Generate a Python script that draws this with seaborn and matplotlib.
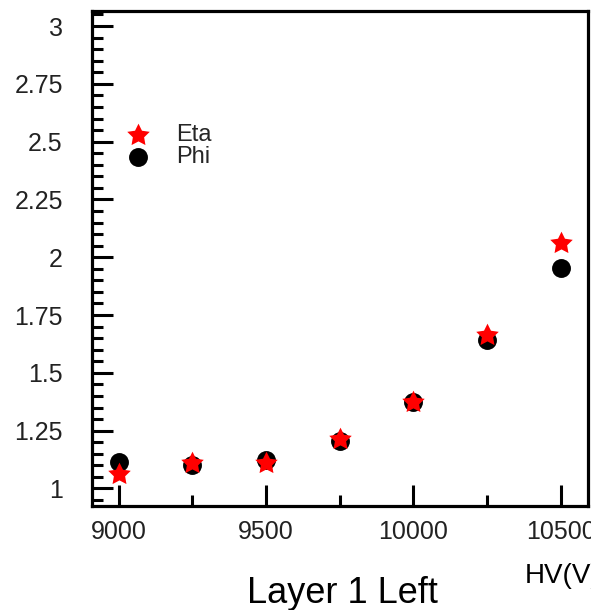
import matplotlib
matplotlib.use("Agg")
import matplotlib.pyplot as plt
import seaborn as sns
import pandas as pd
import numpy as np
from matplotlib.ticker import MultipleLocator, FixedLocator, FixedFormatter

hv = [9000, 9250, 9500, 9750, 10000, 10250, 10500]
eta = [1.063, 1.108, 1.110, 1.212, 1.372, 1.664, 2.060]
phi = [1.116, 1.100, 1.125, 1.203, 1.372, 1.640, 1.955]
x_ticks = [9000, 9500, 10000, 10500]
x_tick_labels = ["9000", "9500", "10000", "10500"]
y_ticks = [1, 1.25, 1.5, 1.75, 2, 2.25, 2.5, 2.75, 3]
y_tick_labels = ["1", "1.25", "1.5", "1.75", "2", "2.25", "2.5", "2.75", "3"]

sns.set_theme(style="white")
plt.rcParams['font.family'] = ['Liberation Sans', 'DejaVu Sans']

# fat five-pointed star marker shape (ROOT-like)
_ang = np.pi / 2 + np.arange(10) * np.pi / 5
_rad = np.where(np.arange(10) % 2 == 0, 1.0, 0.5)
fat_star = list(zip(_rad * np.cos(_ang), _rad * np.sin(_ang)))

W, H = 591, 610
fig = plt.figure(figsize=(W / 100, H / 100), dpi=100)
ax = fig.add_axes([92 / W, 1 - 506 / H, (587.5 - 92) / W, (506 - 11) / H])

df_eta = pd.DataFrame({"HV": hv, "val": eta})
df_phi = pd.DataFrame({"HV": hv, "val": phi})

sns.scatterplot(data=df_phi, x="HV", y="val", ax=ax, marker="o", s=185,
                color="black", linewidth=0, label="Phi", zorder=3)
sns.scatterplot(data=df_eta, x="HV", y="val", ax=ax, marker=fat_star, s=290,
                color="red", linewidth=0, label="Eta", zorder=4)

ax.set_xlim(8910, 10590)
ax.set_ylim(0.924, 3.065)
ax.set_xlabel("")
ax.set_ylabel("")

ax.xaxis.set_major_locator(FixedLocator(x_ticks))
ax.xaxis.set_major_formatter(FixedFormatter(x_tick_labels))
ax.xaxis.set_minor_locator(MultipleLocator(250))
ax.yaxis.set_major_locator(FixedLocator(y_ticks))
ax.yaxis.set_major_formatter(FixedFormatter(y_tick_labels))
ax.yaxis.set_minor_locator(MultipleLocator(0.05))

ax.tick_params(axis="both", which="major", direction="in", length=15, width=2.2,
               color="black", labelsize=18, labelcolor="#222222")
ax.tick_params(axis="both", which="minor", direction="in", length=8, width=2.2,
               color="black")
ax.tick_params(axis="x", which="both", bottom=True, top=False, pad=10)
ax.tick_params(axis="y", which="both", left=True, right=False, pad=21)

for sp in ax.spines.values():
    sp.set_visible(True)
    sp.set_color("black")
    sp.set_linewidth(2.3)

handles, labels = ax.get_legend_handles_labels()
order = [labels.index("Eta"), labels.index("Phi")]
ax.legend([handles[i] for i in order], [labels[i] for i in order],
          loc="upper left", bbox_to_anchor=(126.5 / W, 1 - 124 / H),
          bbox_transform=fig.transFigure, frameon=False, fontsize=17,
          handlelength=1.0, handletextpad=1.1, borderpad=0, borderaxespad=0,
          labelspacing=0.0)

fig.text(342 / W, 1 - 603 / H, "Layer 1 Left", ha="center", va="baseline",
         fontsize=26, color="black")
fig.text(525 / W, 1 - 583 / H, "HV(V)", ha="left", va="baseline",
         fontsize=20, color="black")

fig.savefig("out.png", dpi=100, facecolor="white")
